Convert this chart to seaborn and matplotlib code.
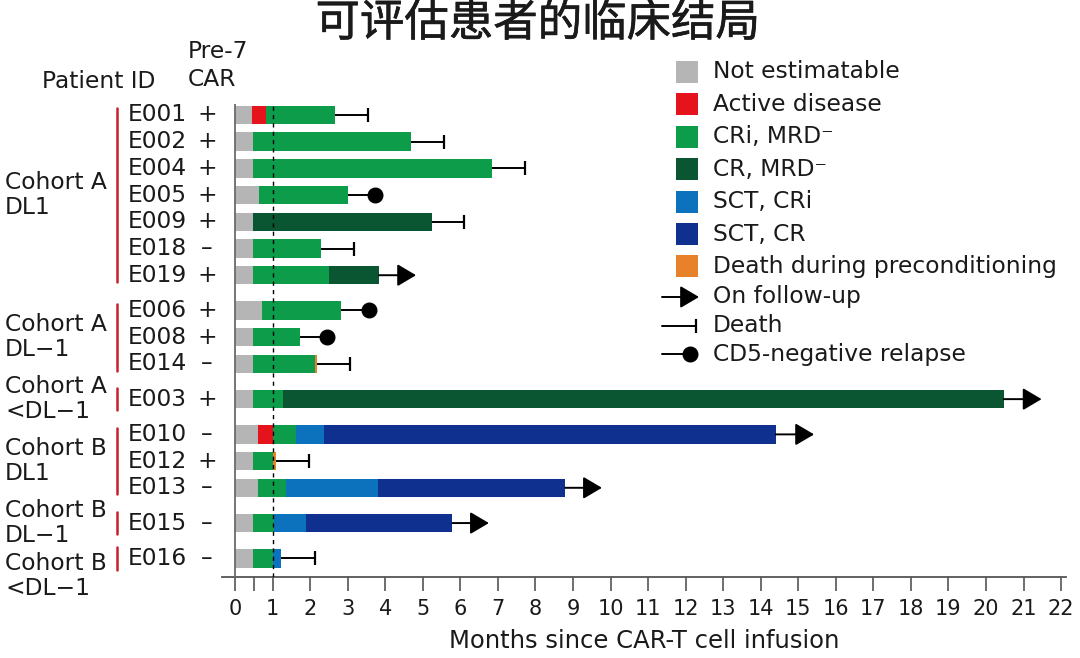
import numpy as np
import pandas as pd
import matplotlib.pyplot as plt
import matplotlib.patheffects as pe
import seaborn as sns

sns.set_style('ticks')
plt.rcParams['font.family'] = ['DejaVu Sans', 'Noto Sans CJK SC']

# ---- data ----
patients = ['E001', 'E002', 'E004', 'E005', 'E009', 'E018', 'E019',
            'E006', 'E008', 'E014', 'E003', 'E010', 'E012', 'E013', 'E015', 'E016']
pre7_car = ['+', '+', '+', '+', '+', '–', '+', '+', '+', '–', '+', '–', '+', '–', '–', '–']
cohorts = ['Cohort A\nDL1', 'Cohort A\nDL−1', 'Cohort A\n<DL−1',
           'Cohort B\nDL1', 'Cohort B\nDL−1', 'Cohort B\n<DL−1']
cohort_size = [7, 3, 1, 3, 1, 1]

# state of each segment and the month where it ends
states = [['NE', 'AD', 'CRi'],
          ['NE', 'CRi'],
          ['NE', 'CRi'],
          ['NE', 'CRi'],
          ['NE', 'CR'],
          ['NE', 'CRi'],
          ['NE', 'CRi', 'CR'],
          ['NE', 'CRi'],
          ['NE', 'CRi'],
          ['NE', 'CRi', 'DP'],
          ['NE', 'CRi', 'CR'],
          ['NE', 'AD', 'CRi', 'SCRi', 'SCR'],
          ['NE', 'CRi', 'DP'],
          ['NE', 'CRi', 'SCRi', 'SCR'],
          ['NE', 'CRi', 'SCRi', 'SCR'],
          ['NE', 'CRi', 'SCRi']]
ends = [[0.45, 0.83, 2.67],
        [0.48, 4.68],
        [0.48, 6.83],
        [0.65, 3.02],
        [0.48, 5.25],
        [0.48, 2.29],
        [0.48, 2.51, 3.83],
        [0.73, 2.83],
        [0.48, 1.74],
        [0.48, 2.13, 2.19],
        [0.48, 1.27, 20.47],
        [0.6, 1.0, 1.63, 2.37, 14.4],
        [0.48, 1.01, 1.08],
        [0.61, 1.35, 3.8, 8.79],
        [0.48, 1.04, 1.89, 5.79],
        [0.48, 1.0, 1.23]]
outcome = ['death', 'death', 'death', 'relapse', 'death', 'death', 'follow',
           'relapse', 'relapse', 'death', 'follow', 'follow', 'death', 'follow',
           'follow', 'death']
outcome_at = [3.53, 5.57, 7.72, 3.73, 6.1, 3.18, 4.82,
              3.56, 2.44, 3.07, 21.48, 15.42, 1.98, 9.77, 6.76, 2.13]

state_names = ['NE', 'AD', 'CRi', 'CR', 'SCRi', 'SCR', 'DP']
state_labels = ['Not estimatable', 'Active disease', 'CRi, MRD⁻', 'CR, MRD⁻',
                'SCT, CRi', 'SCT, CR', 'Death during preconditioning']
colors = {'NE': '#b5b5b5', 'AD': '#e5141c', 'CRi': '#0c9c4a', 'CR': '#0a5532',
          'SCRi': '#0c72bd', 'SCR': '#10308f', 'DP': '#e8822a'}
txt = '#1a1a1a'

# row positions with a small gap between cohorts
gap = 0.32
pos = []
y = 0
for n in cohort_size:
    pos += [y + i for i in range(n)]
    y += n + gap

fig = plt.figure(figsize=(10.8, 6.58), dpi=100)
ax = fig.add_axes([0.2055, 0.1231, 0.7812, 0.7184])

# stacked segments: draw longest layer first, earlier states on top
nmax = max(len(s) for s in states)
for k in range(nmax - 1, -1, -1):
    rows = []
    for p, s, e in zip(pos, states, ends):
        j = min(k, len(s) - 1)
        rows.append({'pos': p, 'end': e[j], 'state': s[j]})
    sns.barplot(data=pd.DataFrame(rows), x='end', y='pos', hue='state',
                palette=colors, orient='h', native_scale=True, dodge=False,
                width=0.69, errorbar=None, legend=False, linewidth=0,
                saturation=1, ax=ax)

# outcome marks
for p, e, o, t in zip(pos, ends, outcome, outcome_at):
    x0 = e[-1]
    if o == 'follow':
        ax.annotate('', xy=(t, p), xytext=(x0, p),
                    arrowprops=dict(arrowstyle='-|>,head_length=1.15,head_width=0.68',
                                    mutation_scale=10, lw=1.4, color='black',
                                    shrinkA=0, shrinkB=0))
    else:
        ax.plot([x0, t], [p, p], color='black', lw=1.4, solid_capstyle='butt')
        if o == 'death':
            ax.plot(t, p, marker='|', ms=9.5, mew=1.6, color='black')
        else:
            ax.plot(t, p, marker='o', ms=10.5, color='black')

ax.set_xlim(-0.35, 22.12)
ax.set_ylim(17.3, -0.4)
ax.axvline(0, color='#6a6a6a', lw=1.3, zorder=4)
ax.axvline(1, color='black', lw=1, ls=(0, (3, 3)), zorder=4)
sns.despine(ax=ax, left=True)
ax.spines['bottom'].set_color('#555555')
ax.spines['bottom'].set_linewidth(1.3)
ax.set_xticks([0, 0.5] + list(range(1, 23)))
ax.set_xticklabels(['0', ''] + [str(i) for i in range(1, 23)])
ax.tick_params(axis='x', length=10, width=1.2, color='#555555', pad=6,
               labelsize=15, labelcolor=txt)
ax.set_yticks([])
ax.set_ylabel('')
ax.set_xlabel('Months since CAR-T cell infusion', fontsize=17.5, labelpad=7, color=txt)


def px(x):
    return (x - 235) / 37.55


# patient ids, pre-7 CAR and cohort labels
for p, name, sign in zip(pos, patients, pre7_car):
    ax.text(px(128), p, name, ha='left', va='center', fontsize=16.8,
            color=txt, clip_on=False)
    ax.text(px(207), p, sign, ha='center', va='center', fontsize=16.8,
            color=txt, clip_on=False)

i = 0
for gi, (lab, n) in enumerate(zip(cohorts, cohort_size)):
    first, last = pos[i], pos[i + n - 1]
    ext = 0.25 if n > 1 else 0.42
    ax.plot([px(117), px(117)], [first - ext, last + ext], color='#c8202a',
            lw=1.8, clip_on=False)
    yc = (first + last) / 2 + (0.65 if gi == len(cohorts) - 1 else 0)
    ax.text(px(5), yc, lab, ha='left', va='center', fontsize=16.8,
            linespacing=1.1, color=txt, clip_on=False)
    i += n

# overlay in pixel units for title, headers and legend
ov = fig.add_axes([0, 0, 1, 1], facecolor='none')
ov.set_xlim(0, 1080)
ov.set_ylim(658, 0)
ov.axis('off')

ov.text(538, 23, '可评估患者的临床结局', ha='center', va='center', fontsize=32,
        family=['Noto Sans CJK SC', 'DejaVu Sans'], color=txt,
        path_effects=[pe.withStroke(linewidth=0.45, foreground=txt)])
ov.text(42, 82, 'Patient ID', ha='left', va='center', fontsize=16.8, color=txt)
ov.text(188, 51, 'Pre-7', ha='left', va='center', fontsize=16.8, color=txt)
ov.text(188, 80, 'CAR', ha='left', va='center', fontsize=16.8, color=txt)

for j, (s, lab) in enumerate(zip(state_names, state_labels)):
    yy = 72 + 32.4 * j
    ov.add_patch(plt.Rectangle((676, yy - 11), 22, 22, color=colors[s], lw=0))
    ov.text(713, yy, lab, ha='left', va='center', fontsize=16.8, color=txt)

ly = [297, 325.5, 354]
ov.annotate('', xy=(699, ly[0]), xytext=(662, ly[0]),
            arrowprops=dict(arrowstyle='-|>,head_length=1.15,head_width=0.68',
                            mutation_scale=10, lw=1.4, color='black',
                            shrinkA=0, shrinkB=0))
ov.plot([662, 696], [ly[1], ly[1]], color='black', lw=1.4)
ov.plot(696, ly[1], marker='|', ms=9.5, mew=1.6, color='black')
ov.plot([662, 690], [ly[2], ly[2]], color='black', lw=1.4)
ov.plot(690, ly[2], marker='o', ms=10.5, color='black')
for yy, lab in zip(ly, ['On follow-up', 'Death', 'CD5-negative relapse']):
    ov.text(713, yy, lab, ha='left', va='center', fontsize=16.8, color=txt)

fig.savefig('out.png', dpi=100)
